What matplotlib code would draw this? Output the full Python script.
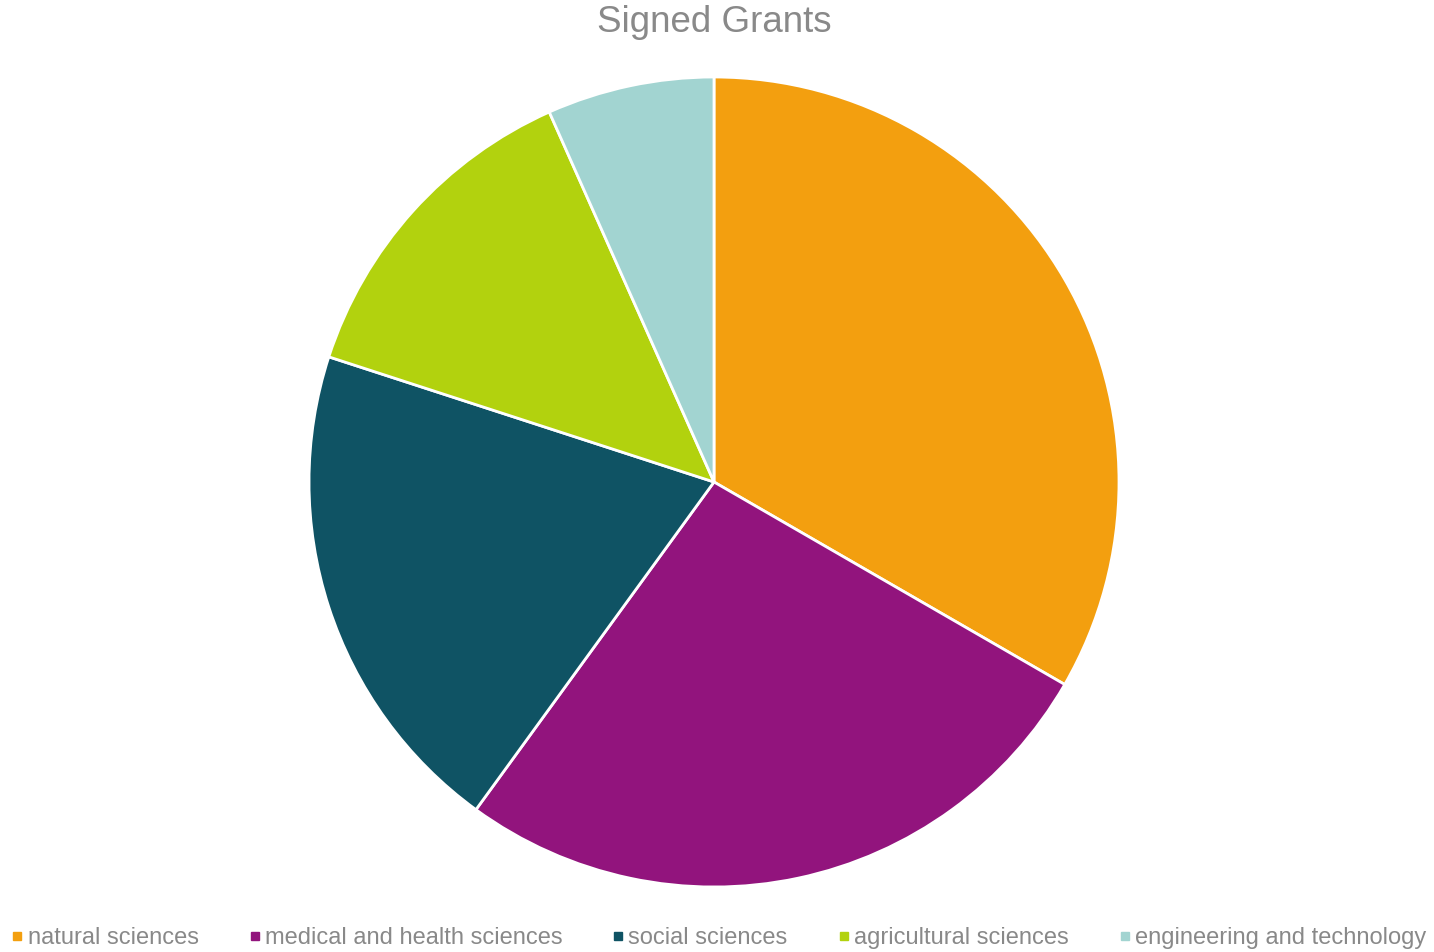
import matplotlib.pyplot as plt
from matplotlib.lines import Line2D

plt.rcParams['font.family'] = ['Liberation Sans', 'DejaVu Sans']

# slice data, clockwise from the top
fields = ["natural sciences", "medical and health sciences", "social sciences",
          "agricultural sciences", "engineering and technology"]
grants = [5, 4, 3, 2, 1]
colors = ["#F39F0F", "#92147D", "#0F5364", "#B2D20E", "#A2D4D1"]

grey = "#898989"

fig = plt.figure(figsize=(14.34, 9.52), dpi=100)
# pie centre ~ (714, 482) px, radius ~ 405 px
ax = fig.add_axes([(714 - 405) / 1434, (952 - 482 - 405) / 952, 810 / 1434, 810 / 952])
ax.pie(grants, colors=colors, startangle=90, counterclock=False, radius=1,
       wedgeprops=dict(edgecolor="white", linewidth=2))
ax.set_xlim(-1, 1)
ax.set_ylim(-1, 1)
ax.set_aspect('equal')
ax.axis('off')

fig.text(714 / 1434, 1 - 23 / 952, "Signed Grants", ha='center', va='center',
         fontsize=26.5, color=grey)

handles = [Line2D([], [], marker='s', linestyle='none', markersize=5.5,
                  markerfacecolor=c, markeredgecolor=c) for c in colors]
leg = fig.legend(handles, fields, loc='center', bbox_to_anchor=(719 / 1434, 1 - 938 / 952),
                 ncol=5, frameon=False, fontsize=17, handlelength=0.45,
                 handletextpad=0.2, columnspacing=2.15, labelcolor=grey,
                 borderaxespad=0, borderpad=0)

fig.savefig("out.png", dpi=100)
